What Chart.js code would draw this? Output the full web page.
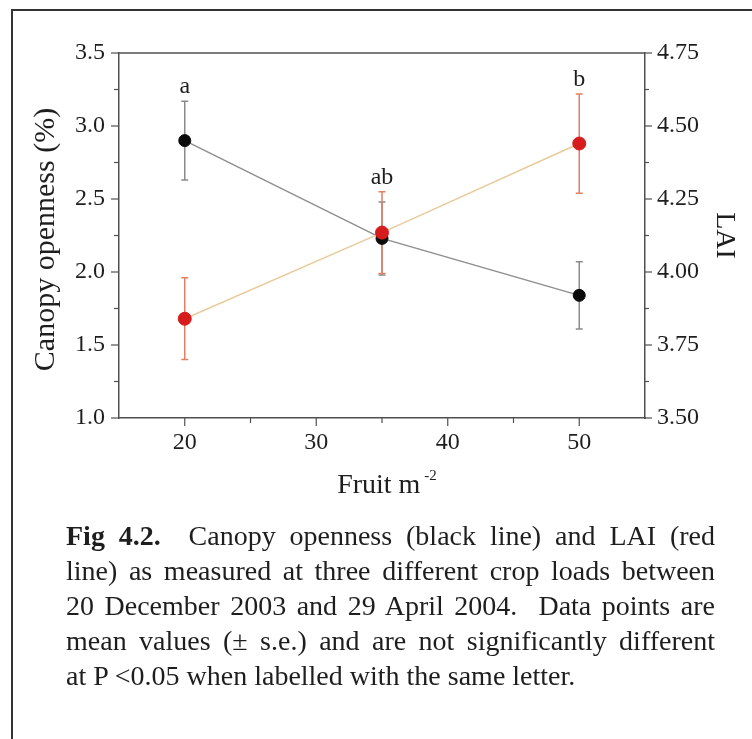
<!DOCTYPE html>
<html><head><meta charset="utf-8">
<script src="https://cdn.jsdelivr.net/npm/chart.js@4.4.1/dist/chart.umd.min.js"></script>
<style>
html,body{margin:0;padding:0;background:#fff;}
#wrap{position:relative;width:752px;height:739px;overflow:hidden;}
canvas{position:absolute;left:0;top:0;}
#cap{position:absolute;left:66px;top:518px;width:649px;font-family:'Liberation Serif','Times New Roman',serif;font-size:28px;line-height:35px;color:#1e1e1e;}
#cap div{text-align:justify;text-align-last:justify;}
#cap div.last{text-align-last:left;}
</style></head><body>
<div id="wrap"><canvas id="c" width="752" height="739"></canvas>
<div id="cap">
<div><b>Fig 4.2.</b>&nbsp; Canopy openness (black line) and LAI (red</div>
<div>line) as measured at three different crop loads between</div>
<div>20 December 2003 and 29 April 2004.&nbsp; Data points are</div>
<div>mean values (± s.e.) and are not significantly different</div>
<div class="last">at P &lt;0.05 when labelled with the same letter.</div>
</div></div>
<script>
const fruitLoad = [20, 35, 50];
const canopyOpenness = [2.90, 2.23, 1.84];
const canopySE = [0.27, 0.25, 0.23];
const lai = [3.84, 4.135, 4.44];
const laiSE = [0.14, 0.14, 0.17];
const sigLetters = ['a', 'ab', 'b'];
const xMajorTicks = [20, 30, 40, 50];
const xMinorTicks = [25, 35, 45];
const leftMajorTicks = [1.0, 1.5, 2.0, 2.5, 3.0, 3.5];
const leftMinorTicks = [1.25, 1.75, 2.25, 2.75, 3.25];
const rightMajorTicks = [3.50, 3.75, 4.00, 4.25, 4.50, 4.75];
const rightMinorTicks = [3.625, 3.875, 4.125, 4.375, 4.625];
const xTitle = 'Fruit m';
const xTitleSup = '-2';
const leftTitle = 'Canopy openness (%)';
const rightTitle = 'LAI';

const SERIF = "'Liberation Serif','Times New Roman',serif";
const AXIS = '#505050';
const TXT = '#1e1e1e';

function drawTicks(ctx, scale, values, len, side, ca) {
  values.forEach(v => {
    const p = scale.getPixelForValue(v);
    ctx.beginPath();
    if (side === 'left') { ctx.moveTo(ca.left - len, p); ctx.lineTo(ca.left, p); }
    else if (side === 'right') { ctx.moveTo(ca.right, p); ctx.lineTo(ca.right + len, p); }
    else { ctx.moveTo(p, ca.bottom); ctx.lineTo(p, ca.bottom + len); }
    ctx.stroke();
  });
}

const decor = {
  id: 'decor',
  beforeDatasetsDraw(chart) {
    const ctx = chart.ctx, x = chart.scales.x;
    const bars = [
      {scale: chart.scales.y, vals: canopyOpenness, se: canopySE, color: '#8a8a8a'},
      {scale: chart.scales.y1, vals: lai, se: laiSE, color: '#e2805f'}
    ];
    ctx.save();
    bars.forEach(b => {
      ctx.strokeStyle = b.color; ctx.lineWidth = 1.5;
      fruitLoad.forEach((f, i) => {
        const px = x.getPixelForValue(f);
        const top = b.scale.getPixelForValue(b.vals[i] + b.se[i]);
        const bot = b.scale.getPixelForValue(b.vals[i] - b.se[i]);
        ctx.beginPath();
        ctx.moveTo(px, top); ctx.lineTo(px, bot);
        ctx.moveTo(px - 3.5, top); ctx.lineTo(px + 3.5, top);
        ctx.moveTo(px - 3.5, bot); ctx.lineTo(px + 3.5, bot);
        ctx.stroke();
      });
    });
    ctx.restore();
  },
  afterDraw(chart) {
    const ctx = chart.ctx, ca = chart.chartArea;
    const x = chart.scales.x, y = chart.scales.y, y1 = chart.scales.y1;
    ctx.save();
    // frame of the figure
    ctx.strokeStyle = '#333'; ctx.lineWidth = 2;
    ctx.beginPath(); ctx.moveTo(12, 739); ctx.lineTo(12, 10); ctx.lineTo(752, 10); ctx.stroke();
    // top border of plot
    ctx.strokeStyle = AXIS; ctx.lineWidth = 1.5;
    ctx.beginPath(); ctx.moveTo(ca.left, ca.top); ctx.lineTo(ca.right, ca.top); ctx.stroke();
    // tick marks
    ctx.lineWidth = 1.2;
    drawTicks(ctx, y, leftMajorTicks, 8, 'left', ca);
    drawTicks(ctx, y, leftMinorTicks, 5, 'left', ca);
    drawTicks(ctx, y1, rightMajorTicks, 7, 'right', ca);
    drawTicks(ctx, y1, rightMinorTicks, 4, 'right', ca);
    drawTicks(ctx, x, xMajorTicks, 8, 'bottom', ca);
    drawTicks(ctx, x, xMinorTicks, 5, 'bottom', ca);
    // significance letters
    ctx.fillStyle = TXT;
    ctx.font = '24px ' + SERIF;
    ctx.textAlign = 'center'; ctx.textBaseline = 'alphabetic';
    fruitLoad.forEach((f, i) => {
      const px = x.getPixelForValue(f);
      const t1 = y.getPixelForValue(canopyOpenness[i] + canopySE[i]);
      const t2 = y1.getPixelForValue(lai[i] + laiSE[i]);
      const top = Math.min(t1, t2);
      ctx.fillText(sigLetters[i], px, top - 8);
    });
    // x title
    ctx.font = '28px ' + SERIF;
    ctx.textAlign = 'left';
    const w1 = ctx.measureText(xTitle).width;
    ctx.font = '15px ' + SERIF;
    const w2 = ctx.measureText(xTitleSup).width;
    const cx = (ca.left + ca.right) / 2 + 5;
    const start = cx - (w1 + 4 + w2) / 2;
    ctx.font = '28px ' + SERIF;
    ctx.fillText(xTitle, start, 493);
    ctx.font = '15px ' + SERIF;
    ctx.fillText(xTitleSup, start + w1 + 4, 480);
    // left title
    ctx.font = '30px ' + SERIF;
    ctx.textAlign = 'center'; ctx.textBaseline = 'middle';
    ctx.save();
    ctx.translate(46, (ca.top + ca.bottom) / 2 + 4);
    ctx.rotate(-Math.PI / 2);
    ctx.fillText(leftTitle, 0, 0);
    ctx.restore();
    // right title
    ctx.font = '28px ' + SERIF;
    ctx.save();
    ctx.translate(724, (ca.top + ca.bottom) / 2);
    ctx.rotate(Math.PI / 2);
    ctx.fillText(rightTitle, 0, 0);
    ctx.restore();
    ctx.restore();
  }
};

const tickFont = {family: SERIF, size: 24};

new Chart(document.getElementById('c'), {
  type: 'line',
  data: {
    datasets: [
      {
        label: 'Canopy openness',
        data: fruitLoad.map((f, i) => ({x: f, y: canopyOpenness[i]})),
        yAxisID: 'y',
        borderColor: '#8e8e8e', borderWidth: 1.5,
        pointBackgroundColor: '#0b0b0b', pointBorderColor: '#0b0b0b',
        pointRadius: 6, pointBorderWidth: 1,
        order: 1
      },
      {
        label: 'LAI',
        data: fruitLoad.map((f, i) => ({x: f, y: lai[i]})),
        yAxisID: 'y1',
        borderColor: '#e8cb9c', borderWidth: 1.5,
        pointBackgroundColor: '#d61c1c', pointBorderColor: '#d61c1c',
        pointRadius: 6.5, pointBorderWidth: 1,
        order: 0
      }
    ]
  },
  options: {
    responsive: false,
    animation: false,
    layout: {padding: {top: 53, left: 0, right: 0, bottom: 0}},
    plugins: {legend: {display: false}, tooltip: {enabled: false}},
    scales: {
      x: {
        type: 'linear', min: 15, max: 55,
        afterBuildTicks: s => { s.ticks = xMajorTicks.concat(xMinorTicks).sort((a, b) => a - b).map(v => ({value: v})); },
        afterFit: s => { s.height = 739 - 418; },
        grid: {display: true, drawOnChartArea: false, drawTicks: false},
        border: {display: true, color: AXIS, width: 1.5},
        ticks: {autoSkip: false, maxRotation: 0, padding: 10, color: TXT, font: tickFont,
          callback: v => xMajorTicks.includes(v) ? String(v) : ''}
      },
      y: {
        position: 'left', min: 1.0, max: 3.5,
        afterBuildTicks: s => { s.ticks = leftMajorTicks.concat(leftMinorTicks).sort((a, b) => a - b).map(v => ({value: v})); },
        afterFit: s => { s.width = 119; },
        grid: {display: true, drawOnChartArea: false, drawTicks: false},
        border: {display: true, color: AXIS, width: 1.5},
        ticks: {autoSkip: false, padding: 14, color: TXT, font: tickFont,
          callback: v => leftMajorTicks.includes(v) ? v.toFixed(1) : ''}
      },
      y1: {
        position: 'right', min: 3.5, max: 4.75,
        afterBuildTicks: s => { s.ticks = rightMajorTicks.concat(rightMinorTicks).sort((a, b) => a - b).map(v => ({value: v})); },
        afterFit: s => { s.width = 752 - 645; },
        grid: {display: true, drawOnChartArea: false, drawTicks: false},
        border: {display: true, color: AXIS, width: 1.5},
        ticks: {autoSkip: false, padding: 12, color: TXT, font: tickFont,
          callback: v => rightMajorTicks.includes(v) ? v.toFixed(2) : ''}
      }
    }
  },
  plugins: [decor]
});
</script>
</body></html>
